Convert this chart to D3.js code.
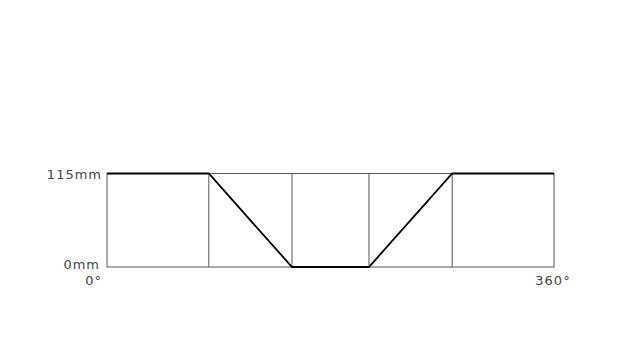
<!DOCTYPE html>
<html>
<head>
<meta charset="utf-8">
<script src="https://cdn.jsdelivr.net/npm/d3@7"></script>
<style>
  body { margin: 0; background: #fff; }
  text { font-family: "DejaVu Sans", sans-serif; font-size: 13px; letter-spacing: 1px; fill: #444; }
</style>
</head>
<body>
<div id="chart"></div>
<script>
// cam displacement diagram: angle in degrees, lift in mm
var angles = [0, 82, 149, 211, 278, 360];
var lift = [115, 115, 0, 0, 115, 115];
var dividers = [82, 149, 211, 278];
var yLabels = ["0mm", "115mm"];
var xLabels = ["0°", "360°"];

var width = 640, height = 360;
var svg = d3.select('#chart').append('svg')
            .attr('width', width).attr('height', height);

var x = d3.scaleLinear().domain([0, 360]).range([107, 554]);
var y = d3.scaleLinear().domain([0, 115]).range([267, 173.5]);

// frame
svg.append('rect')
   .attr('x', x(0)).attr('y', y(115))
   .attr('width', x(360) - x(0)).attr('height', y(0) - y(115))
   .attr('fill', 'none').attr('stroke', '#555').attr('stroke-width', 1);

svg.selectAll('line.div')
   .data(dividers)
   .enter().append('line')
   .attr('class', 'div')
   .attr('x1', function (d) { return x(d); })
   .attr('x2', function (d) { return x(d); })
   .attr('y1', y(115)).attr('y2', y(0))
   .attr('stroke', '#555').attr('stroke-width', 1);

// profile
var pts = angles.map(function (a, i) { return [a, lift[i]]; });
var line = d3.line()
             .x(function (d) { return x(d[0]); })
             .y(function (d) { return y(d[1]); });
svg.append('path')
   .datum(pts)
   .attr('d', line)
   .attr('fill', 'none').attr('stroke', '#000').attr('stroke-width', 1.8);

// labels
svg.append('text').attr('x', x(0) - 5).attr('y', y(115) + 5)
   .attr('text-anchor', 'end').text(yLabels[1]);
svg.append('text').attr('x', x(0) - 7).attr('y', y(0) + 2)
   .attr('text-anchor', 'end').text(yLabels[0]);
svg.append('text').attr('x', x(0) - 5).attr('y', y(0) + 18)
   .attr('text-anchor', 'end').text(xLabels[0]);
svg.append('text').attr('x', x(360) - 1).attr('y', y(0) + 18)
   .attr('text-anchor', 'middle').text(xLabels[1]);
</script>
</body>
</html>
